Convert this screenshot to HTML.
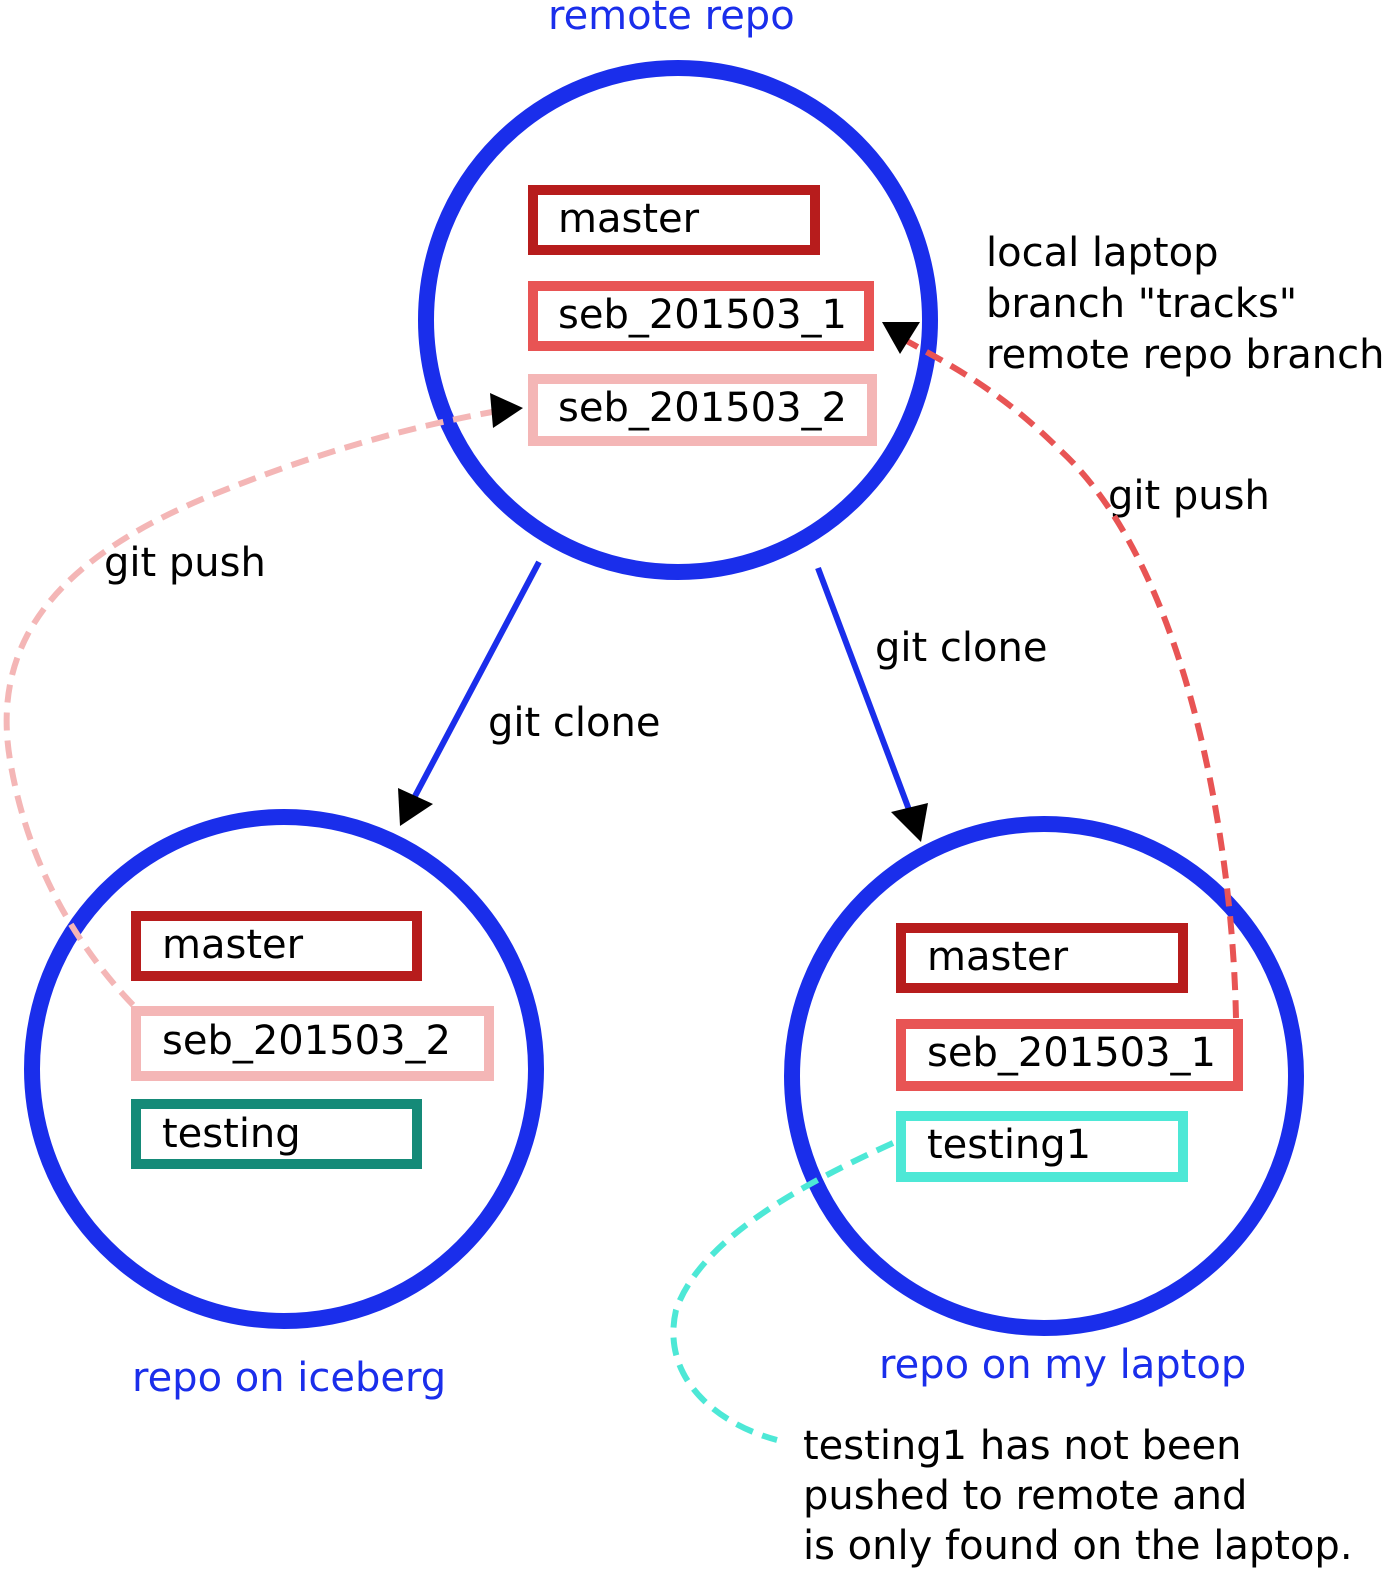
<!DOCTYPE html>
<html><head><style>html,body{margin:0;padding:0;background:#fff}svg{display:block}text{font-family:"DejaVu Sans","Liberation Sans",sans-serif;font-size:40px}</style></head>
<body>
<svg width="1400" height="1583" viewBox="0 0 1400 1583" xmlns="http://www.w3.org/2000/svg">
<g fill="none" stroke="#1a2eeb" stroke-width="16">
<circle cx="678" cy="320" r="252"/>
<circle cx="284" cy="1069" r="252"/>
<circle cx="1044" cy="1076" r="252"/>
</g>
<g fill="none" stroke-width="10">
<rect x="533" y="190" width="282" height="60" stroke="#b71c1c"/>
<rect x="533" y="286" width="336" height="60" stroke="#e85454"/>
<rect x="533" y="379" width="339" height="62" stroke="#f4b6b6"/>
<rect x="136" y="916" width="281" height="60" stroke="#b71c1c"/>
<rect x="136" y="1011" width="353" height="65" stroke="#f4b6b6"/>
<rect x="136" y="1104" width="281" height="60" stroke="#158a78"/>
<rect x="901" y="928" width="282" height="60" stroke="#b71c1c"/>
<rect x="901" y="1024" width="337" height="62" stroke="#e85454"/>
<rect x="901" y="1116" width="282" height="61" stroke="#4de8d6"/>
</g>
<g fill="#000">
<text x="558" y="232">master</text>
<text x="558" y="328">seb_201503_1</text>
<text x="558" y="421">seb_201503_2</text>
<text x="162" y="958">master</text>
<text x="162" y="1054">seb_201503_2</text>
<text x="162" y="1147">testing</text>
<text x="927" y="970">master</text>
<text x="927" y="1066">seb_201503_1</text>
<text x="927" y="1158">testing1</text>
<text x="986" y="266">local laptop</text>
<text x="986" y="317">branch "tracks"</text>
<text x="986" y="368">remote repo branch</text>
<text x="1108" y="509">git push</text>
<text x="104" y="576">git push</text>
<text x="875" y="661">git clone</text>
<text x="488" y="736">git clone</text>
<text x="803" y="1459">testing1 has not been</text>
<text x="803" y="1509">pushed to remote and</text>
<text x="803" y="1559">is only found on the laptop.</text>
</g>
<g fill="#1a2eeb">
<text x="548" y="29">remote repo</text>
<text x="132" y="1391">repo on iceberg</text>
<text x="879" y="1378">repo on my laptop</text>
</g>
<g stroke="#1a2eeb" stroke-width="6" fill="none">
<line x1="539" y1="562" x2="413" y2="800"/>
<line x1="818" y1="568" x2="911" y2="815"/>
</g>
<polygon points="400,826 398,788 433,804" fill="#000"/>
<polygon points="921,842 891,812 928,803" fill="#000"/>
<g fill="none" stroke-width="6" stroke-dasharray="18,10">
<path d="M1236,1018 C1232,820 1180,560 1060,450 C1000,390 950,365 905,340" stroke="#e85454"/>
<path d="M133,1005 C90,960 30,880 10,760 C-10,640 60,560 200,500 C320,450 420,425 492,412" stroke="#f4b6b6"/>
<path d="M893,1143 C800,1185 700,1240 676,1310 C660,1380 720,1425 777,1440" stroke="#4de8d6"/>
</g>
<polygon points="882,322 920,322 900,354" fill="#000"/>
<polygon points="523,408 490,393 493,428" fill="#000"/>
</svg>
</body></html>
